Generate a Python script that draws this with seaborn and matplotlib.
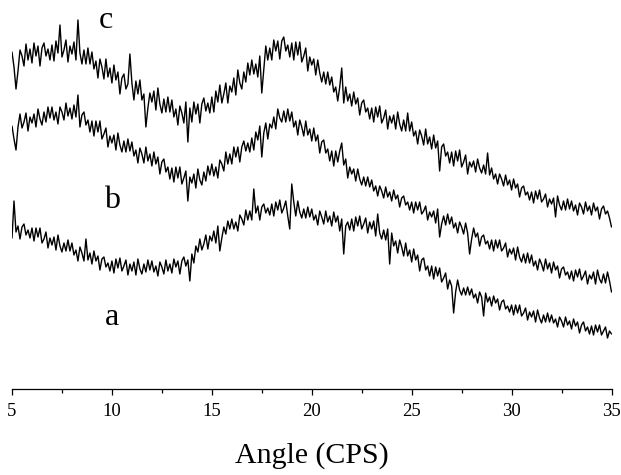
import numpy as np
import pandas as pd
import seaborn as sns
import matplotlib.pyplot as plt

# scan 5-35 deg, step 0.1
angle = np.round(np.arange(5.0, 35.05, 0.1), 1)

# intensities (one row = 1 degree)
curve_c = [
    337, 322, 300, 318, 339, 333, 323, 345, 329, 340,
    326, 346, 333, 343, 323, 341, 346, 333, 340, 329,
    344, 328, 348, 336, 364, 332, 339, 349, 327, 343,
    335, 347, 329, 369, 336, 325, 339, 325, 341, 325,
    337, 320, 328, 311, 330, 322, 310, 330, 312, 321,
    306, 324, 309, 317, 295, 311, 315, 300, 305, 335,
    306, 289, 308, 295, 309, 289, 295, 262, 281, 296,
    287, 298, 279, 301, 285, 276, 290, 277, 292, 277,
    289, 272, 280, 264, 283, 276, 266, 287, 247, 281,
    267, 287, 275, 285, 266, 285, 291, 278, 286, 276,
    292, 277, 298, 287, 304, 286, 295, 306, 286, 303,
    297, 311, 294, 319, 306, 300, 317, 307, 326, 314,
    329, 315, 325, 312, 333, 296, 320, 343, 329, 341,
    329, 349, 338, 348, 330, 348, 352, 338, 344, 332,
    346, 329, 347, 334, 347, 327, 333, 341, 318, 332,
    324, 330, 314, 329, 316, 307, 317, 305, 317, 304,
    312, 297, 302, 288, 302, 321, 286, 302, 288, 295,
    283, 297, 285, 291, 274, 286, 289, 277, 281, 270,
    281, 267, 282, 272, 283, 266, 271, 279, 260, 273,
    266, 274, 260, 277, 265, 258, 269, 258, 276, 258,
    267, 253, 258, 245, 259, 253, 244, 260, 245, 252,
    240, 254, 241, 248, 218, 242, 245, 233, 237, 226,
    237, 223, 238, 228, 239, 222, 227, 234, 215, 227,
    222, 228, 217, 230, 221, 216, 224, 215, 236, 214,
    221, 210, 215, 205, 215, 210, 203, 214, 204, 209,
    199, 210, 201, 205, 192, 201, 203, 194, 197, 189,
    197, 186, 198, 190, 199, 187, 190, 195, 182, 190,
    185, 191, 172, 193, 184, 179, 188, 179, 190, 180,
    188, 178, 184, 174, 186, 182, 175, 187, 178, 183,
    174, 186, 178, 182, 170, 180, 183, 175, 178, 171,
    162,
]

curve_b = [
    263, 250, 239, 262, 275, 261, 267, 276, 258, 272,
    266, 275, 262, 280, 270, 264, 277, 267, 282, 271,
    282, 269, 277, 265, 282, 277, 269, 286, 273, 281,
    270, 284, 272, 294, 262, 274, 277, 264, 269, 257,
    268, 253, 268, 257, 268, 250, 255, 261, 242, 253,
    246, 254, 239, 256, 244, 237, 248, 237, 250, 238,
    247, 233, 239, 226, 241, 235, 226, 242, 228, 235,
    223, 237, 225, 232, 215, 227, 230, 217, 222, 210,
    221, 207, 222, 211, 222, 205, 211, 218, 188, 212,
    206, 215, 201, 220, 209, 204, 217, 208, 223, 214,
    225, 213, 222, 211, 229, 225, 218, 237, 225, 235,
    225, 242, 232, 242, 227, 242, 248, 238, 246, 237,
    251, 239, 257, 249, 263, 232, 256, 266, 250, 265,
    261, 272, 260, 280, 271, 267, 278, 267, 280, 268,
    277, 262, 268, 254, 269, 262, 253, 268, 254, 260,
    248, 261, 248, 254, 236, 247, 249, 236, 240, 228,
    238, 223, 238, 227, 238, 246, 224, 230, 211, 222,
    215, 220, 208, 220, 210, 204, 212, 203, 212, 202,
    209, 198, 203, 193, 203, 198, 191, 202, 192, 197,
    188, 199, 190, 194, 182, 191, 193, 184, 187, 179,
    187, 176, 187, 179, 187, 175, 178, 183, 169, 177,
    172, 178, 166, 180, 152, 165, 173, 164, 175, 165,
    172, 161, 166, 156, 167, 162, 155, 166, 156, 135,
    150, 161, 152, 156, 143, 152, 154, 145, 148, 140,
    149, 138, 149, 141, 149, 138, 141, 146, 132, 140,
    135, 141, 129, 142, 132, 127, 135, 126, 136, 126,
    134, 123, 128, 119, 130, 125, 118, 130, 120, 126,
    116, 127, 119, 123, 111, 120, 122, 114, 117, 110,
    118, 108, 119, 112, 120, 109, 113, 118, 105, 114,
    110, 117, 105, 119, 110, 106, 115, 106, 117, 108,
    97,
]

curve_a = [
    151, 188, 157, 163, 150, 162, 165, 154, 159, 151,
    161, 148, 161, 152, 161, 146, 150, 157, 141, 151,
    144, 152, 139, 154, 143, 137, 146, 138, 149, 138,
    146, 134, 139, 128, 142, 136, 128, 150, 129, 136,
    125, 138, 128, 133, 119, 130, 132, 122, 126, 118,
    128, 116, 130, 121, 131, 118, 123, 129, 114, 125,
    118, 127, 114, 130, 120, 115, 125, 117, 129, 119,
    128, 117, 123, 113, 127, 122, 115, 129, 118, 125,
    116, 130, 122, 128, 115, 128, 132, 123, 129, 108,
    135, 126, 143, 137, 150, 139, 145, 154, 140, 153,
    148, 158, 146, 163, 138, 151, 162, 155, 168, 160,
    170, 160, 167, 158, 174, 170, 164, 179, 169, 178,
    169, 200, 176, 183, 169, 182, 185, 176, 181, 174,
    185, 173, 187, 179, 189, 176, 181, 188, 173, 160,
    205, 187, 173, 188, 177, 171, 180, 171, 182, 172,
    180, 169, 174, 164, 178, 172, 165, 178, 167, 173,
    163, 177, 167, 173, 158, 170, 135, 163, 167, 159,
    170, 158, 172, 163, 173, 160, 165, 171, 156, 167,
    160, 168, 153, 175, 156, 150, 159, 149, 160, 125,
    156, 143, 148, 136, 149, 142, 133, 146, 133, 139,
    127, 140, 129, 134, 118, 129, 131, 119, 123, 113,
    123, 110, 122, 113, 121, 107, 111, 116, 100, 109,
    103, 76, 97, 109, 99, 94, 101, 94, 102, 94,
    100, 91, 95, 86, 97, 92, 73, 96, 87, 92,
    83, 93, 86, 90, 79, 87, 89, 80, 83, 77,
    84, 74, 84, 76, 84, 73, 76, 81, 69, 77,
    72, 78, 67, 79, 71, 66, 74, 67, 76, 67,
    74, 66, 70, 62, 72, 68, 62, 72, 64, 68,
    60, 70, 63, 67, 56, 64, 67, 58, 62, 55,
    63, 54, 64, 57, 64, 54, 58, 62, 51, 58,
    55,
]

labels = ["a", "b", "c"]
label_pos = [(10.0, 64), (10.0, 181), (9.7, 361)]

sns.set_theme(style="white")
plt.rcParams["font.family"] = ["Liberation Serif", "DejaVu Serif"]
plt.rcParams["text.color"] = "black"
plt.rcParams["xtick.color"] = "black"
plt.rcParams["axes.labelcolor"] = "black"

fig = plt.figure(figsize=(6.21, 4.75), dpi=100)
ax = fig.add_axes([12 / 621, 86 / 475, 599.5 / 621, 389 / 475])

for name, vals in zip(labels, [curve_a, curve_b, curve_c]):
    df = pd.DataFrame({"angle": angle, "counts": vals})
    sns.lineplot(data=df, x="angle", y="counts", ax=ax, color="black",
                 linewidth=1.0, estimator=None)

for name, (x, y) in zip(labels, label_pos):
    ax.text(x, y, name, fontsize=23, ha="center", va="baseline", color="black")

ax.set_xlim(5, 35)
ax.set_ylim(0, 389)
ax.set_xticks(range(5, 36, 5))
ax.set_xticks(np.arange(7.5, 35, 5), minor=True)
ax.tick_params(axis="x", which="major", direction="out", length=4.3, width=0.9,
               labelsize=13.5, pad=6, bottom=True, colors="black")
ax.tick_params(axis="x", which="minor", direction="out", length=2.9, width=0.9,
               bottom=True, colors="black")
ax.set_yticks([])
for s in ["left", "right", "top"]:
    ax.spines[s].set_visible(False)
ax.spines["bottom"].set_linewidth(0.9)
ax.spines["bottom"].set_color("black")
ax.set_ylabel("")
ax.set_xlabel("Angle (CPS)", fontsize=21.5, labelpad=16, color="black")

fig.savefig("out.png", dpi=100)
